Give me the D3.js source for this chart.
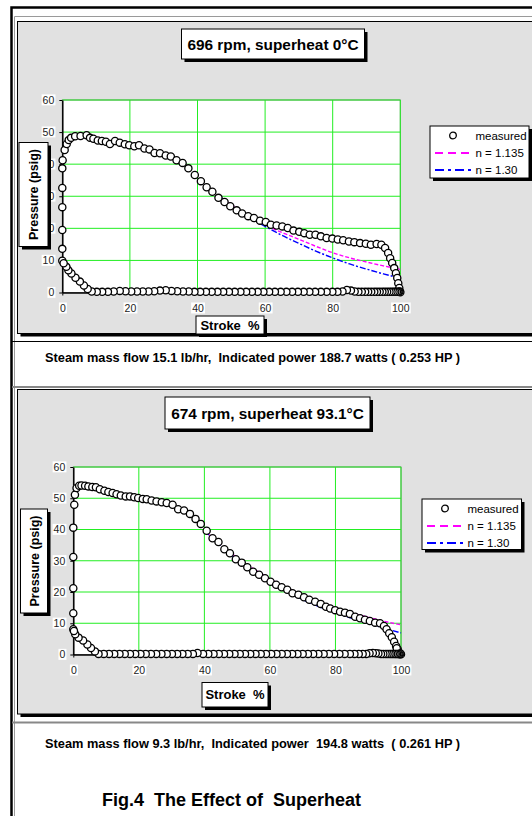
<!DOCTYPE html>
<html>
<head>
<meta charset="utf-8">
<script src="https://cdn.jsdelivr.net/npm/d3@7"></script>
<style>
  body { margin: 0; background: #fff; }
  svg { display: block; font-family: "Liberation Sans", Arial, Helvetica, sans-serif; }
</style>
</head>
<body>
<svg id="fig" width="532" height="816"></svg>
<script>
// ---- data ----
const xTicks = [0, 20, 40, 60, 80, 100]
const yTicks = [0, 10, 20, 30, 40, 50, 60]
const legendLabels = ['measured', 'n = 1.135', 'n = 1.30']
const titles = ['696 rpm, superheat 0°C', '674 rpm, superheat 93.1°C']
const captions = [
  'Steam mass flow 15.1 lb/hr,  Indicated power 188.7 watts ( 0.253 HP )',
  'Steam mass flow 9.3 lb/hr,  Indicated power  194.8 watts  ( 0.261 HP )'
]
const figTitle = 'Fig.4  The Effect of  Superheat'
const xLabel = 'Stroke  %'
const yLabel = 'Pressure (psig)'

// stroke %, pressure psig
const measured696 = [
  [0,9.9],[0,13.6],[0,19.5],[0,26.6],[0,32.6],[0,38.7],[0.1,41.2],[0.7,44.4],[1.3,46.3],[1.9,47.5],
  [2.6,48.2],[3.8,48.7],[5.4,48.8],[7.2,49.0],[8.2,48.2],[9.2,47.9],[10.5,47.4],[11.7,47.2],[12.9,47.0],
  [14.1,46.3],[15.6,47.2],[17.0,46.7],[18.5,46.2],[19.8,45.9],[21.3,45.6],[22.7,45.9],[24.3,44.9],
  [25.8,44.6],[27.3,43.5],[28.9,43.4],[30.6,42.7],[32.1,42.4],[33.8,41.2],[35.6,40.4],[37.3,38.7],
  [39.2,36.6],[41.0,34.7],[42.7,32.8],[44.4,31.4],[46.2,29.5],[48.0,28.2],[49.7,26.9],[51.6,25.6],
  [53.2,24.6],[55.0,23.8],[56.7,23.2],[58.5,22.4],[60.2,22.0],[61.7,21.1],[63.4,20.9],[65.1,20.6],
  [66.7,20.1],[68.4,19.3],[70.1,18.9],[71.6,18.5],[73.2,18.0],[74.9,18.0],[76.5,17.5],[78.2,17.0],
  [79.9,16.8],[81.5,16.5],[83.1,16.3],[84.8,15.9],[86.4,15.7],[88.1,15.4],[89.8,15.2],[91.3,14.9],
  [93.0,15.1],[94.4,14.9],[95.5,13.9],[96.4,12.3],[97.0,10.7],[97.6,9.2],[98.2,7.6],[98.7,6.0],
  [99.1,4.5],[99.4,2.9],[99.7,1.4],[99.9,0.3],
  [100,0.1],[99.7,0.2],[99.4,0.2],[99.0,0.2],[98.5,0.2],[98.0,0.2],[97.4,0.2],[96.8,0.2],[96.1,0.2],
  [95.4,0.2],[94.7,0.2],[93.9,0.2],[93.1,0.2],[92.3,0.2],[91.4,0.2],[90.5,0.2],[89.6,0.2],[88.6,0.2],
  [87.6,0.2],[86.5,0.3],[85.4,0.6],[84.2,0.8],[82.9,0.3],[81.4,0.2],[79.9,0.2],[78.2,0.2],[76.5,0.2],
  [74.8,0.2],[73.1,0.2],[71.4,0.2],[69.7,0.2],[68.0,0.2],[66.3,0.2],[64.6,0.2],[62.9,0.2],[61.2,0.2],
  [59.5,0.2],[57.8,0.2],[56.1,0.2],[54.4,0.2],[52.7,0.2],[51.0,0.2],[49.3,0.2],[47.6,0.2],[45.9,0.2],
  [44.2,0.2],[42.5,0.2],[40.8,0.2],[39.1,0.2],[37.4,0.3],[35.7,0.3],[34.0,0.4],[32.3,0.5],[30.6,0.7],
  [28.9,0.6],[27.2,0.4],[25.5,0.3],[23.8,0.3],[22.1,0.3],[20.4,0.3],[18.7,0.4],[17.0,0.5],[15.2,0.3],
  [13.5,0.2],[11.8,0.2],[10.2,0.2],[8.7,0.3],
  [7.5,1.1],[6.4,2.2],[5.2,3.4],[3.9,4.6],[2.7,5.9],[1.8,6.9],[1.2,8.0],[0.4,9.1]
]
const n1135_696 = [[47,29.6],[50,27.4],[55,24.0],[60,21.1],[65,18.7],[70,16.6],[75,14.4],[80,12.4],[85,10.8],[90,9.5],[95,8.3],[100,7.2]]
const n130_696 = [[47,29.6],[50,27.0],[55,23.6],[60,20.6],[65,17.8],[70,15.3],[75,12.9],[80,10.8],[85,8.9],[90,7.3],[95,5.8],[100,4.5]]

const measured674 = [
  [0,8.1],[0,13.2],[0,21.2],[0,31.2],[0,40.6],[0.3,47.9],[0.5,51.1],[1.0,53.3],[1.8,54.0],[2.5,54.1],
  [3.6,54.0],[4.6,53.8],[5.8,53.6],[6.9,53.5],[8.1,52.9],[9.5,52.4],[10.7,52.0],[12.0,51.7],[13.2,51.3],
  [14.5,50.9],[16.0,50.6],[17.3,50.6],[18.6,50.3],[19.8,50.1],[21.2,49.8],[22.4,49.7],[23.9,49.3],
  [25.4,49.0],[27.0,48.7],[28.5,48.5],[30.3,47.9],[32.0,46.5],[33.8,46.1],[35.6,45.0],[37.3,43.4],
  [38.9,41.8],[40.7,39.6],[42.5,37.2],[44.3,36.0],[46.1,33.7],[47.8,32.4],[49.6,30.5],[51.4,29.4],
  [53.1,27.9],[54.9,26.5],[56.7,25.5],[58.5,24.4],[60.2,23.3],[61.9,22.3],[63.6,21.5],[65.3,20.7],
  [66.9,19.6],[68.7,19.1],[70.4,18.3],[72.0,17.5],[73.8,16.9],[75.5,16.2],[77.1,15.3],[78.4,14.7],
  [79.9,14.2],[81.4,13.7],[82.9,13.4],[84.4,13.0],[86.0,12.1],[87.5,11.6],[89.0,11.1],[90.5,10.7],
  [92.1,10.2],[93.6,10.0],[94.8,9.1],[95.6,8.1],[96.4,6.8],[97.2,5.5],[97.9,4.1],[98.5,2.7],[99.0,1.7],
  [99.4,0.6],[99.7,0.1],[99.1,1.0],[98.7,2.0],
  [100,0.1],[99.8,0.3],[99.5,0.2],[99.2,0.2],[98.8,0.2],[98.4,0.2],[98.0,0.2],[97.5,0.2],[97.0,0.2],
  [96.5,0.2],[95.9,0.2],[95.3,0.2],[94.6,0.2],[93.9,0.2],[93.1,0.3],[92.3,0.4],[91.4,0.5],[90.4,0.4],
  [89.4,0.2],[88.3,0.2],[87.1,0.2],[85.8,0.2],[84.4,0.2],[82.8,0.2],[81.2,0.2],[79.6,0.2],[78.0,0.2],
  [76.4,0.2],[74.8,0.2],[73.2,0.2],[71.6,0.2],[70.0,0.2],[68.4,0.2],[66.8,0.2],[65.2,0.2],[63.6,0.2],
  [62.0,0.2],[60.4,0.2],[58.8,0.2],[57.2,0.2],[55.6,0.2],[54.0,0.2],[52.4,0.2],[50.8,0.2],[49.2,0.2],
  [47.6,0.2],[46.0,0.2],[44.4,0.2],[42.8,0.2],[41.2,0.2],[39.6,0.2],[37.9,0.5],[36.5,0.2],[34.9,0.2],
  [33.3,0.2],[31.7,0.2],[30.1,0.2],[28.5,0.2],[26.9,0.2],[25.3,0.2],[23.7,0.2],[22.1,0.2],[20.5,0.2],
  [18.9,0.2],[17.3,0.2],[15.7,0.2],[14.1,0.2],[12.5,0.2],[10.9,0.2],[9.3,0.2],[7.7,0.2],
  [6.6,1.0],[5.4,2.1],[4.3,3.2],[3.0,4.5],[1.6,5.4],[0.6,6.5],[0.2,7.5]
]
const n1135_674 = [[40,39.6],[45,35.2],[50,31.0],[55,27.4],[60,24.2],[65,21.4],[70,19.0],[75,16.9],[80,15.0],[85,13.3],[90,11.9],[95,10.6],[100,9.5]]
const n130_674 = [[40,39.6],[45,34.7],[50,30.3],[55,26.5],[60,23.0],[65,20.1],[70,17.6],[75,15.3],[80,13.4],[85,11.6],[90,10.0],[95,8.4],[100,6.9]]

// ---- layout ----
const panels = [
  { title: titles[0], caption: captions[0], measured: measured696, n1135: n1135_696, n130: n130_696,
    frame: {x: 17.5, y: 21.5, w: 530, h: 312}, plot: {x0: 62.3, x1: 400.3, y0: 292.5, y1: 100},
    titleBox: {x: 181.5, y: 29, w: 183, h: 30}, yBox: {x: 19, y: 142.5, w: 29, h: 104},
    xBox: {x: 196, y: 316, w: 68, h: 18}, legend: {x: 430, y: 126, w: 99, h: 52}, captionY: 357 },
  { title: titles[1], caption: captions[1], measured: measured674, n1135: n1135_674, n130: n130_674,
    frame: {x: 17.5, y: 389.5, w: 530, h: 324.5}, plot: {x0: 73.3, x1: 401, y0: 654.5, y1: 467},
    titleBox: {x: 165, y: 397, w: 205, h: 32}, yBox: {x: 20.5, y: 509, w: 27, h: 104},
    xBox: {x: 202, y: 682.5, w: 66, h: 24.5}, legend: {x: 422, y: 499, w: 99.5, h: 50.5}, captionY: 743.5 }
]

const svg = d3.select('#fig')

// page frame (document table borders)
svg.append('path').attr('d', 'M11.5,830V7.5H540').attr('fill', 'none').attr('stroke', '#000').attr('stroke-width', 2.5)
svg.append('path').attr('d', 'M14.5,830V16.5H540').attr('fill', 'none').attr('stroke', '#9a9a9a').attr('stroke-width', 1)
svg.append('line').attr('x1', 12).attr('x2', 532).attr('y1', 341.5).attr('y2', 341.5).attr('stroke', '#000')
svg.append('line').attr('x1', 12).attr('x2', 532).attr('y1', 387).attr('y2', 387).attr('stroke', '#888').attr('stroke-width', 2)
svg.append('line').attr('x1', 12).attr('x2', 532).attr('y1', 722.5).attr('y2', 722.5).attr('stroke', '#888').attr('stroke-width', 2)

function shadowBox(g, b, fill, off) {
  g.append('rect').attr('x', b.x + off).attr('y', b.y + off).attr('width', b.w).attr('height', b.h).attr('fill', '#000')
  g.append('rect').attr('x', b.x).attr('y', b.y).attr('width', b.w).attr('height', b.h)
    .attr('fill', fill).attr('stroke', '#000').attr('stroke-width', 1)
}

function labelBackgrounds(axisG) {
  axisG.selectAll('.tick text').each(function() {
    const bb = this.getBBox()
    d3.select(this.parentNode).insert('rect', 'text')
      .attr('x', bb.x - 1).attr('y', bb.y + 0.5).attr('width', bb.width + 2).attr('height', bb.height - 1)
      .attr('fill', '#fff')
  })
}

function drawPanel(p) {
  const g = svg.append('g')
  shadowBox(g, p.frame, '#e1e1e1', 3)

  const x = d3.scaleLinear().domain([0, 100]).range([p.plot.x0, p.plot.x1])
  const y = d3.scaleLinear().domain([0, 60]).range([p.plot.y0, p.plot.y1])

  g.append('rect').attr('x', x(0)).attr('y', y(60)).attr('width', x(100) - x(0)).attr('height', y(0) - y(60))
    .attr('fill', '#fff').attr('stroke', '#808080')

  g.append('g').selectAll('line').data(xTicks.slice(1)).join('line')
    .attr('x1', d => x(d)).attr('x2', d => x(d)).attr('y1', y(0)).attr('y2', y(60))
    .attr('stroke', '#22ee22').attr('stroke-width', 1)
  g.append('g').selectAll('line').data(yTicks.slice(1)).join('line')
    .attr('x1', x(0)).attr('x2', x(100)).attr('y1', d => y(d)).attr('y2', d => y(d))
    .attr('stroke', '#22ee22').attr('stroke-width', 1)

  const yAxis = g.append('g').attr('transform', `translate(${x(0)},0)`)
    .call(d3.axisLeft(y).tickValues(yTicks).tickSize(3).tickSizeOuter(0).tickPadding(5))
  const xAxis = g.append('g').attr('transform', `translate(0,${y(0)})`)
    .call(d3.axisBottom(x).tickValues(xTicks).tickSize(3).tickSizeOuter(0).tickPadding(9))
  ;[yAxis, xAxis].forEach(a => {
    a.attr('font-family', null).attr('font-size', 10.5)
    a.select('.domain').attr('stroke', '#000').attr('stroke-width', 1.5)
    a.selectAll('.tick line').attr('stroke', '#000')
    a.selectAll('.tick text').attr('fill', '#222')
    labelBackgrounds(a)
  })

  const line = d3.line().x(d => x(d[0])).y(d => y(d[1])).curve(d3.curveMonotoneX)
  g.append('path').datum(p.n1135).attr('d', line).attr('fill', 'none')
    .attr('stroke', '#ff00ff').attr('stroke-width', 1.4).attr('stroke-dasharray', '4,2')
  g.append('path').datum(p.n130).attr('d', line).attr('fill', 'none')
    .attr('stroke', '#0000ff').attr('stroke-width', 1.4).attr('stroke-dasharray', '6,2,2,2')

  g.append('g').selectAll('circle').data(p.measured).join('circle')
    .attr('cx', d => x(d[0])).attr('cy', d => y(d[1])).attr('r', 3.6)
    .attr('fill', '#fff').attr('stroke', '#000').attr('stroke-width', 1.3)

  // title
  const tb = p.titleBox
  shadowBox(g, tb, '#fff', 3)
  g.append('text').attr('x', tb.x + tb.w / 2).attr('y', tb.y + tb.h / 2).attr('dy', '0.36em')
    .attr('text-anchor', 'middle').attr('font-weight', 'bold').attr('font-size', 15.4).text(p.title)

  // axis titles
  const yb = p.yBox
  shadowBox(g, yb, '#fff', 3)
  g.append('text').attr('transform', `translate(${yb.x + yb.w / 2},${yb.y + yb.h / 2}) rotate(-90)`)
    .attr('dy', '0.36em').attr('text-anchor', 'middle').attr('font-weight', 'bold').attr('font-size', 12.5)
    .text(yLabel)
  const xb = p.xBox
  shadowBox(g, xb, '#fff', 3)
  g.append('text').attr('x', xb.x + xb.w / 2).attr('y', xb.y + xb.h / 2).attr('dy', '0.36em')
    .attr('text-anchor', 'middle').attr('font-weight', 'bold').attr('font-size', 13)
    .style('white-space', 'pre').text(xLabel)

  // legend
  const L = p.legend
  shadowBox(g, L, '#fff', 3)
  const rowY = [9.5, 27, 44]
  const rows = g.append('g').selectAll('g').data(legendLabels).join('g')
    .attr('transform', (d, i) => `translate(${L.x},${L.y + rowY[i]})`)
  rows.filter((d, i) => i === 0).append('circle').attr('cx', 23).attr('r', 3.3)
    .attr('fill', '#fff').attr('stroke', '#000').attr('stroke-width', 1.3)
  rows.filter((d, i) => i === 1).append('line').attr('x1', 5).attr('x2', 42)
    .attr('stroke', '#ff00ff').attr('stroke-width', 2).attr('stroke-dasharray', '8,5')
  rows.filter((d, i) => i === 2).append('line').attr('x1', 5).attr('x2', 42)
    .attr('stroke', '#0000ff').attr('stroke-width', 2).attr('stroke-dasharray', '9,4,3,4')
  rows.append('text').attr('x', 45.5).attr('dy', '0.36em').attr('font-size', 11.5).text(d => d)

  // caption under the panel
  svg.append('text').attr('x', 45).attr('y', p.captionY).attr('dy', '0.36em')
    .attr('font-weight', 'bold').attr('font-size', 12.8).style('white-space', 'pre').text(p.caption)
}

panels.forEach(drawPanel)

svg.append('text').attr('x', 102).attr('y', 799.5).attr('dy', '0.36em')
  .attr('font-weight', 'bold').attr('font-size', 18).style('white-space', 'pre').text(figTitle)
</script>
</body>
</html>
